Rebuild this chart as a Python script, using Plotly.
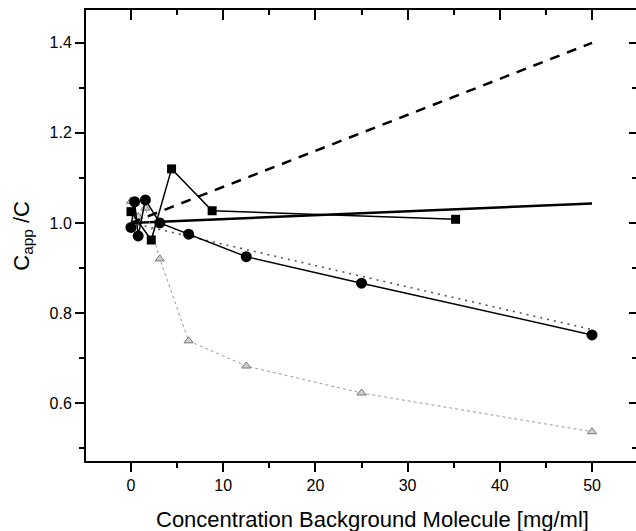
import plotly.graph_objects as go

# Dilution series: concentration of background molecule [mg/ml] vs C_app/C
conc_circles = [0, 0.39, 0.78, 1.56, 3.125, 6.25, 12.5, 25, 50]
ratio_circles = [0.99, 1.047, 0.971, 1.051, 1.0, 0.975, 0.925, 0.866, 0.751]

conc_squares = [0, 2.2, 4.4, 8.8, 35.2]
ratio_squares = [1.025, 0.962, 1.12, 1.027, 1.008]

conc_triangles = [0, 0.78, 1.56, 3.125, 6.25, 12.5, 25, 50]
ratio_triangles = [1.048, 1.014, 1.033, 0.92, 0.738, 0.682, 0.622, 0.536]

# Linear trend lines
fit_x = [0, 50]
fit_dashed = [1.0, 1.40]
fit_solid = [1.0, 1.043]
fit_dotted = [1.0, 0.763]

x_ticks = [0, 10, 20, 30, 40, 50]
y_ticks = [0.6, 0.8, 1.0, 1.2, 1.4]

X_RANGE = [-4.88, 54.77]
Y_RANGE = [0.471, 1.473]
FONT = "Liberation Sans, Arial, sans-serif"

fig = go.Figure()

fig.add_trace(go.Scatter(x=fit_x, y=fit_dashed, mode="lines",
                         line=dict(color="black", width=2.5, dash="10px,8px")))
fig.add_trace(go.Scatter(x=fit_x, y=fit_solid, mode="lines",
                         line=dict(color="black", width=2.5)))
fig.add_trace(go.Scatter(x=fit_x, y=fit_dotted, mode="lines",
                         line=dict(color="#555555", width=1.6, dash="2px,5px")))

fig.add_trace(go.Scatter(x=conc_triangles, y=ratio_triangles, mode="lines+markers",
                         line=dict(color="#999999", width=1, dash="3px,3px"),
                         marker=dict(symbol="triangle-up", size=8, color="#d0d0d0",
                                     line=dict(color="#777777", width=1))))
fig.add_trace(go.Scatter(x=conc_squares, y=ratio_squares, mode="lines+markers",
                         line=dict(color="black", width=1.5),
                         marker=dict(symbol="square", size=9, color="black")))
fig.add_trace(go.Scatter(x=conc_circles, y=ratio_circles, mode="lines+markers",
                         line=dict(color="black", width=1.5),
                         marker=dict(symbol="circle", size=11, color="black")))

# Empty trace that carries the mirrored top/right axes
fig.add_trace(go.Scatter(x=[None], y=[None], xaxis="x2", yaxis="y2",
                         hoverinfo="skip", showlegend=False))

fig.update_layout(
    width=636, height=531,
    margin=dict(l=86, r=0, t=10, b=70),
    paper_bgcolor="white", plot_bgcolor="white",
    showlegend=False,
    font=dict(family=FONT, size=16, color="black"),
    xaxis=dict(
        range=X_RANGE, tickvals=x_ticks, ticks="outside", ticklen=9, tickwidth=2,
        tickcolor="black", showline=True, linewidth=2, linecolor="black",
        showgrid=False, zeroline=False,
        minor=dict(tick0=0, dtick=5, ticks="outside", ticklen=5, tickwidth=2,
                   tickcolor="black"),
    ),
    yaxis=dict(
        range=Y_RANGE, tickvals=y_ticks, tickformat=".1f", ticks="outside",
        ticklen=9, tickwidth=2, tickcolor="black", showline=True, linewidth=2,
        linecolor="black", showgrid=False, zeroline=False,
        minor=dict(tick0=0.5, dtick=0.1, ticks="outside", ticklen=5, tickwidth=2,
                   tickcolor="black"),
    ),
    xaxis2=dict(
        overlaying="x", side="top", anchor="y", range=X_RANGE, tickvals=x_ticks,
        ticks="inside", ticklen=10, tickwidth=2, tickcolor="black",
        showticklabels=False, showline=True, linewidth=2, linecolor="black",
        showgrid=False, zeroline=False,
        minor=dict(tick0=0, dtick=5, ticks="inside", ticklen=5, tickwidth=2,
                   tickcolor="black"),
    ),
    yaxis2=dict(
        overlaying="y", side="right", anchor="x", range=Y_RANGE, tickvals=y_ticks,
        ticks="inside", ticklen=7, tickwidth=2, tickcolor="black",
        showticklabels=False, showline=False, showgrid=False, zeroline=False,
        minor=dict(tick0=0.5, dtick=0.1, ticks="inside", ticklen=4, tickwidth=2,
                   tickcolor="black"),
    ),
    annotations=[
        dict(text="Concentration Background Molecule [mg/ml]",
             xref="paper", yref="paper", x=0.52, y=-0.129,
             xanchor="center", yanchor="middle", showarrow=False,
             font=dict(size=22)),
        dict(text="C<sub>app</sub> /C",
             xref="paper", yref="paper", x=-0.116, y=0.5,
             xanchor="center", yanchor="middle", showarrow=False,
             textangle=-90, font=dict(size=22)),
    ],
)

fig.write_html("out.html")
